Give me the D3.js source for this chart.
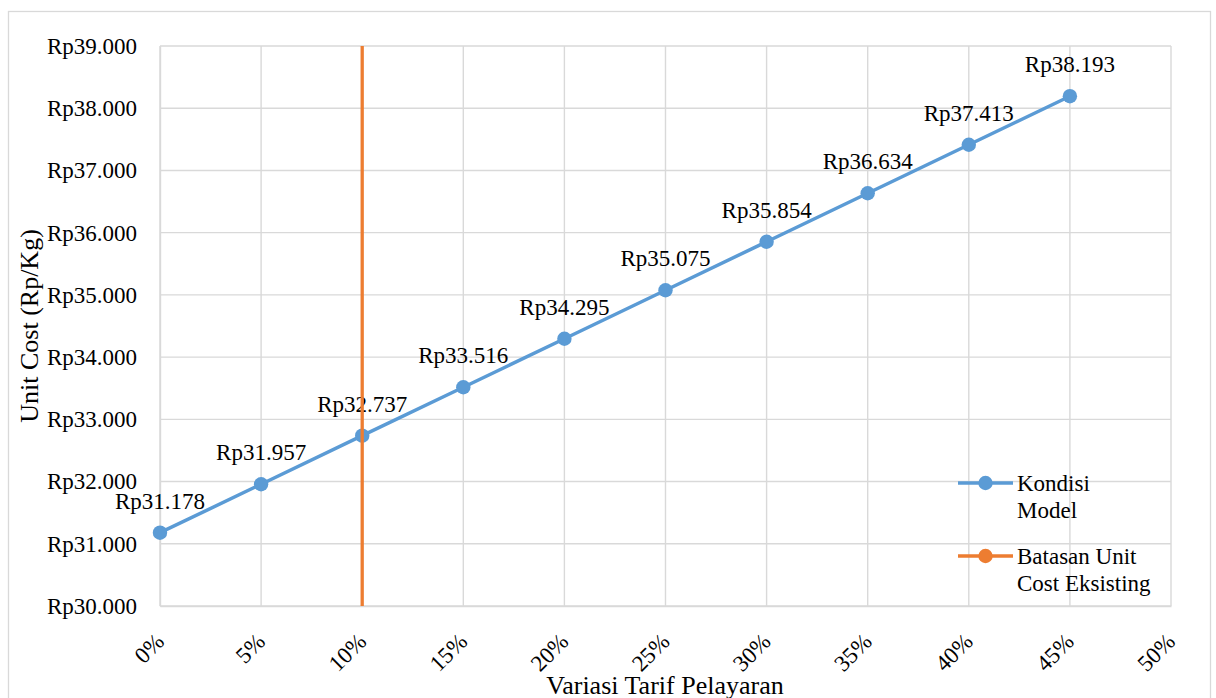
<!DOCTYPE html>
<html>
<head>
<meta charset="utf-8">
<script src="https://cdn.jsdelivr.net/npm/d3@7"></script>
<style>
  body { margin: 0; background: #fff; }
  svg { font-family: "Liberation Serif", "Times New Roman", serif; }
</style>
</head>
<body>
<div class="container"></div>
<script>
// chart data
var tarif = [0, 5, 10, 15, 20, 25, 30, 35, 40, 45];
var unitCost = [31178, 31957, 32737, 33516, 34295, 35075, 35854, 36634, 37413, 38193];
var batasanX = [10, 10];
var batasanY = [30000, 39000];
var xTicks = [0, 5, 10, 15, 20, 25, 30, 35, 40, 45, 50];
var yTicks = [30000, 31000, 32000, 33000, 34000, 35000, 36000, 37000, 38000, 39000];
var seriesNames = [["Kondisi", "Model"], ["Batasan Unit", "Cost Eksisting"]];

const WIDTH = 1216;
const HEIGHT = 698;
const LEFT = 160, RIGHT = 1171, TOP = 46, BOTTOM = 606;
const BLUE = "#5b9bd5", ORANGE = "#ed7d31", GRID = "#d9d9d9";

var translate = function(x, y){
  return "translate(" + x + "," + y + ")";
};

var fmtRp = function(v){
  return "Rp" + d3.format(",")(v).replace(/,/g, ".");
};

var xScale = d3.scaleLinear().domain([0, 50]).range([LEFT, RIGHT]);
var yScale = d3.scaleLinear().domain([30000, 39000]).range([BOTTOM, TOP]);

var svg = d3.select(".container").append("svg")
  .attr("width", WIDTH)
  .attr("height", HEIGHT);

// outer chart border
svg.append("rect")
  .attr("x", 8.5).attr("y", 11.5)
  .attr("width", 1202).attr("height", 700)
  .attr("fill", "none").attr("stroke", GRID).attr("stroke-width", 1.3);

// gridlines
svg.append("g").selectAll("line.h").data(yTicks).enter().append("line")
  .attr("x1", LEFT).attr("x2", RIGHT)
  .attr("y1", function(d){ return yScale(d); })
  .attr("y2", function(d){ return yScale(d); })
  .attr("stroke", GRID).attr("stroke-width", 1.4);

svg.append("g").selectAll("line.v").data(xTicks).enter().append("line")
  .attr("y1", TOP).attr("y2", BOTTOM)
  .attr("x1", function(d){ return xScale(d); })
  .attr("x2", function(d){ return xScale(d); })
  .attr("stroke", GRID).attr("stroke-width", 1.4);

// y axis
var yAxis = d3.axisLeft(yScale).tickValues(yTicks).tickSize(0).tickPadding(23).tickFormat(fmtRp);
var gy = svg.append("g").attr("transform", translate(LEFT, 0)).call(yAxis);
gy.select(".domain").attr("stroke", GRID).attr("stroke-width", 1.4);
gy.selectAll("text")
  .attr("font-family", "Liberation Serif, Times New Roman, serif")
  .attr("font-size", 23).attr("fill", "#000");

// x axis
var xAxis = d3.axisBottom(xScale).tickValues(xTicks).tickSize(0).tickFormat(function(d){ return d + "%"; });
var gx = svg.append("g").attr("transform", translate(0, BOTTOM)).call(xAxis);
gx.select(".domain").attr("stroke", GRID).attr("stroke-width", 1.4);
gx.selectAll("text")
  .attr("font-family", "Liberation Serif, Times New Roman, serif")
  .attr("font-size", 23).attr("fill", "#000")
  .attr("y", 0).attr("dy", 0)
  .attr("text-anchor", "end")
  .attr("transform", "translate(5,37) rotate(-45)");

// axis titles
svg.append("text")
  .attr("transform", translate(38, 326) + " rotate(-90)")
  .attr("text-anchor", "middle")
  .attr("font-size", 26)
  .text("Unit Cost (Rp/Kg)");

svg.append("text")
  .attr("x", 665).attr("y", 694)
  .attr("text-anchor", "middle")
  .attr("font-size", 26)
  .text("Variasi Tarif Pelayaran");

// Kondisi Model series
var line = d3.line()
  .x(function(d, i){ return xScale(tarif[i]); })
  .y(function(d){ return yScale(d); });

svg.append("path")
  .datum(unitCost)
  .attr("d", line)
  .attr("fill", "none")
  .attr("stroke", BLUE)
  .attr("stroke-width", 3.5)
  .attr("stroke-linejoin", "round");

svg.append("g").selectAll("circle").data(unitCost).enter().append("circle")
  .attr("cx", function(d, i){ return xScale(tarif[i]); })
  .attr("cy", function(d){ return yScale(d); })
  .attr("r", 7.2)
  .attr("fill", BLUE);

svg.append("g").selectAll("text").data(unitCost).enter().append("text")
  .attr("x", function(d, i){ return xScale(tarif[i]); })
  .attr("y", function(d){ return yScale(d) - 24; })
  .attr("text-anchor", "middle")
  .attr("font-size", 23)
  .text(fmtRp);

// Batasan Unit Cost Eksisting series
var vline = d3.line()
  .x(function(d, i){ return xScale(batasanX[i]); })
  .y(function(d){ return yScale(d); });

svg.append("path")
  .datum(batasanY)
  .attr("d", vline)
  .attr("fill", "none")
  .attr("stroke", ORANGE)
  .attr("stroke-width", 3.3);

// legend
var legend = svg.append("g").attr("transform", translate(958, 483));
var colors = [BLUE, ORANGE];
seriesNames.forEach(function(names, i){
  var g = legend.append("g").attr("transform", translate(0, i * 73));
  g.append("line").attr("x1", 0).attr("x2", 55).attr("y1", 0).attr("y2", 0)
    .attr("stroke", colors[i]).attr("stroke-width", 3.5);
  g.append("circle").attr("cx", 27.5).attr("cy", 0).attr("r", 7.2).attr("fill", colors[i]);
  names.forEach(function(n, j){
    g.append("text").attr("x", 59).attr("y", 8 + j * 27)
      .attr("font-size", 23).text(n);
  });
});
</script>
</body>
</html>
